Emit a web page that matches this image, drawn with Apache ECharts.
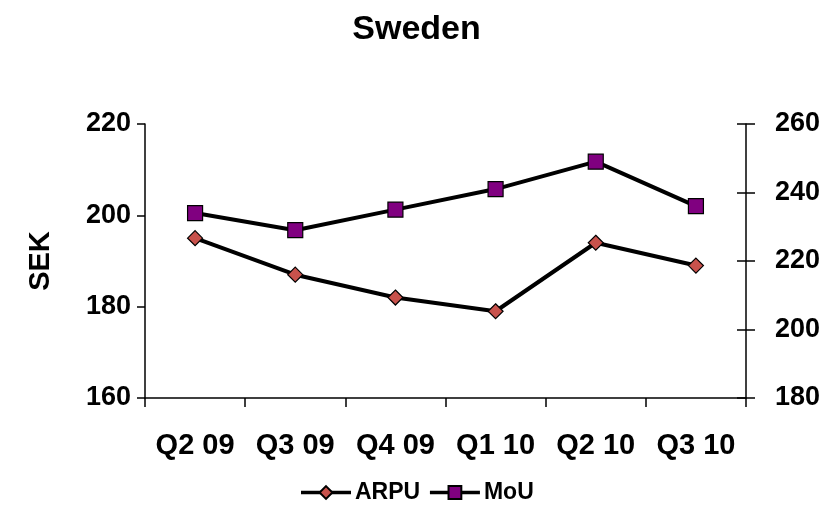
<!DOCTYPE html>
<html>
<head>
<meta charset="utf-8">
<script src="https://cdn.jsdelivr.net/npm/echarts@6/dist/echarts.min.js"></script>
<style>
  html, body { margin: 0; padding: 0; background: #ffffff; }
  #chart { width: 833px; height: 519px; }
</style>
</head>
<body>
<div id="chart"></div>
<script>
// Quarterly ARPU (SEK, left axis) and MoU (right axis) for Sweden
const quarters = ['Q2 09', 'Q3 09', 'Q4 09', 'Q1 10', 'Q2 10', 'Q3 10'];
const arpu = [195, 187, 182, 179, 194, 189];
const mou = [234, 229, 235, 241, 249, 236];

const FONT = '"Liberation Sans", Arial, sans-serif';
const labelStyle = { fontFamily: FONT, fontWeight: 'bold', fontSize: 27, color: '#000' };

const chart = echarts.init(document.getElementById('chart'), null, { renderer: 'canvas' });

chart.setOption({
  animation: false,
  backgroundColor: '#ffffff',
  title: {
    text: 'Sweden',
    left: 'center',
    top: 8,
    textStyle: { fontFamily: FONT, fontWeight: 'bold', fontSize: 34, color: '#000' }
  },
  legend: {
    bottom: 10,
    left: 'center',
    itemWidth: 50,
    itemHeight: 16,
    itemGap: 8,
    lineStyle: { width: 3.5 },
    textStyle: { fontFamily: FONT, fontWeight: 'bold', fontSize: 23, color: '#000', padding: [0, 0, 0, -1] },
    data: ['ARPU', 'MoU']
  },
  grid: { left: 145, right: 87, top: 124, bottom: 121, containLabel: false },
  xAxis: {
    type: 'category',
    data: quarters,
    boundaryGap: true,
    axisLine: { lineStyle: { color: '#000', width: 1.5 } },
    axisTick: { show: true, length: 9, inside: false, alignWithLabel: false, lineStyle: { color: '#000', width: 1.5 } },
    axisLabel: Object.assign({}, labelStyle, { margin: 33, interval: 0, fontSize: 29 }),
    splitLine: { show: false }
  },
  yAxis: [
    {
      type: 'value',
      position: 'left',
      min: 160, max: 220, interval: 20,
      name: 'SEK',
      nameLocation: 'middle',
      nameGap: 90,
      nameRotate: 90,
      nameTextStyle: Object.assign({}, labelStyle, { fontSize: 29 }),
      axisLine: { show: true, lineStyle: { color: '#000', width: 1.5 } },
      axisTick: { show: true, length: 8, inside: false, lineStyle: { color: '#000', width: 1.5 } },
      axisLabel: Object.assign({ margin: 14 }, labelStyle),
      splitLine: { show: false }
    },
    {
      type: 'value',
      position: 'right',
      min: 180, max: 260, interval: 20,
      axisLine: { show: true, lineStyle: { color: '#000', width: 1.5 } },
      axisTick: { show: true, length: 9, inside: false, lineStyle: { color: '#000', width: 1.5 } },
      axisLabel: Object.assign({ margin: 29 }, labelStyle),
      splitLine: { show: false }
    },
    {
      // inner half of the crossing ticks on the right axis
      type: 'value',
      position: 'right',
      min: 180, max: 260, interval: 20,
      axisLine: { show: false },
      axisTick: { show: true, length: 9, inside: true, lineStyle: { color: '#000', width: 1.5 } },
      axisLabel: { show: false },
      splitLine: { show: false }
    }
  ],
  series: [
    {
      name: 'ARPU',
      type: 'line',
      yAxisIndex: 0,
      data: arpu,
      symbol: 'diamond',
      symbolSize: 15,
      lineStyle: { color: '#000', width: 4 },
      itemStyle: { color: '#C8524C', borderColor: '#000', borderWidth: 1.2 }
    },
    {
      name: 'MoU',
      type: 'line',
      yAxisIndex: 1,
      data: mou,
      symbol: 'rect',
      symbolSize: 15,
      lineStyle: { color: '#000', width: 4 },
      itemStyle: { color: '#800080', borderColor: '#000', borderWidth: 1.2 }
    }
  ]
});
</script>
</body>
</html>
